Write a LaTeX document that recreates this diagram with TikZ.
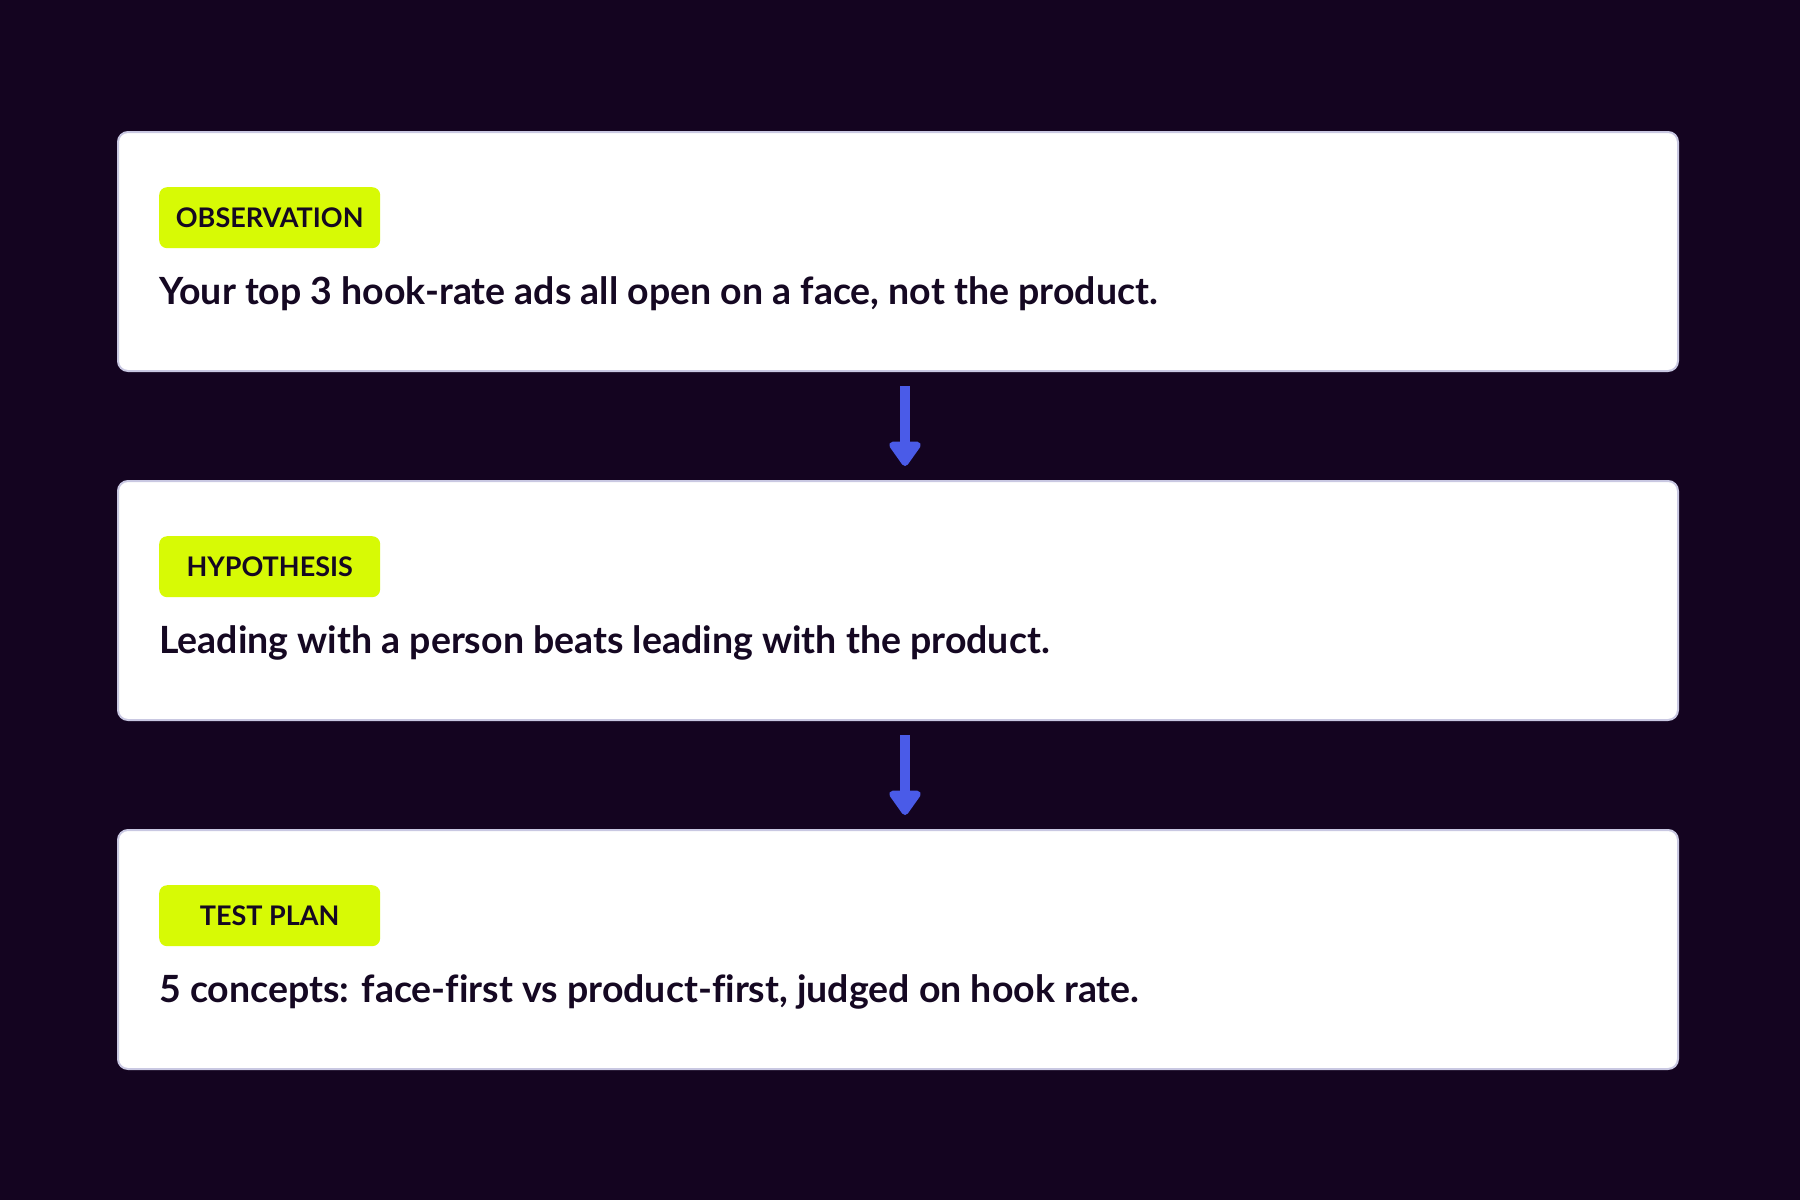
\documentclass[tikz,border=0pt]{standalone}
\usepackage{fontspec}
\setmainfont{Lato}[Ligatures=NoCommon]
\usetikzlibrary{positioning,calc,arrows.meta,backgrounds}
\definecolor{bgpurple}{HTML}{140420}
\definecolor{tagyellow}{HTML}{D7FA05}
\definecolor{arrowblue}{HTML}{4A5BE8}
\definecolor{inkdark}{HTML}{150822}
\definecolor{cardedge}{HTML}{C9C8E2}
\newcommand{\cw}{1560}
\newcommand{\ch}{239}
\newcommand{\mcard}[4]{
  \node [card] at (#1) (#4) {};
  \node [tag,anchor=north west] at ($(#4.north west)+(42,56)$) (#4tag) {#2};
  \node [body,anchor=base west] at ($(#4.north west)+(42,173)$) (#4text) {#3};
}

\begin{document}
\begin{tikzpicture}[x=1pt,y=-1pt,
  card/.style={draw=cardedge,line width=2pt,fill=white,rounded corners=10pt,
    minimum width=\cw pt,minimum height=\ch pt,inner sep=0pt},
  tag/.style={fill=tagyellow,rounded corners=8pt,minimum width=221pt,minimum height=61pt,
    inner sep=0pt,text=inkdark,font=\fontsize{27}{30}\selectfont\bfseries},
  body/.style={inner sep=0pt,text=inkdark,font=\fontsize{37.5}{42}\selectfont\bfseries},
  flow/.style={draw=arrowblue,line width=10pt,shorten <=14pt,shorten >=14pt,
    -{Triangle[width=36pt,length=27pt,round]}}]
  \fill [bgpurple] (0,0) rectangle (1800,1200);
  \useasboundingbox (0,0) rectangle (1800,1200);

  \mcard{898,251.5}{OBSERVATION}{Your top 3 hook-rate ads all open on a face, not the product.}{obs}
  \mcard{898,600.5}{HYPOTHESIS}{Leading with a person beats leading with the product.}{hyp}
  \mcard{898,949.5}{TEST PLAN}{5 concepts: face-first vs product-first, judged on hook rate.}{plan}

  \draw [flow] ([xshift=7pt]obs.south) -- ([xshift=7pt]hyp.north);
  \draw [flow] ([xshift=7pt]hyp.south) -- ([xshift=7pt]plan.north);
\end{tikzpicture}
\end{document}
